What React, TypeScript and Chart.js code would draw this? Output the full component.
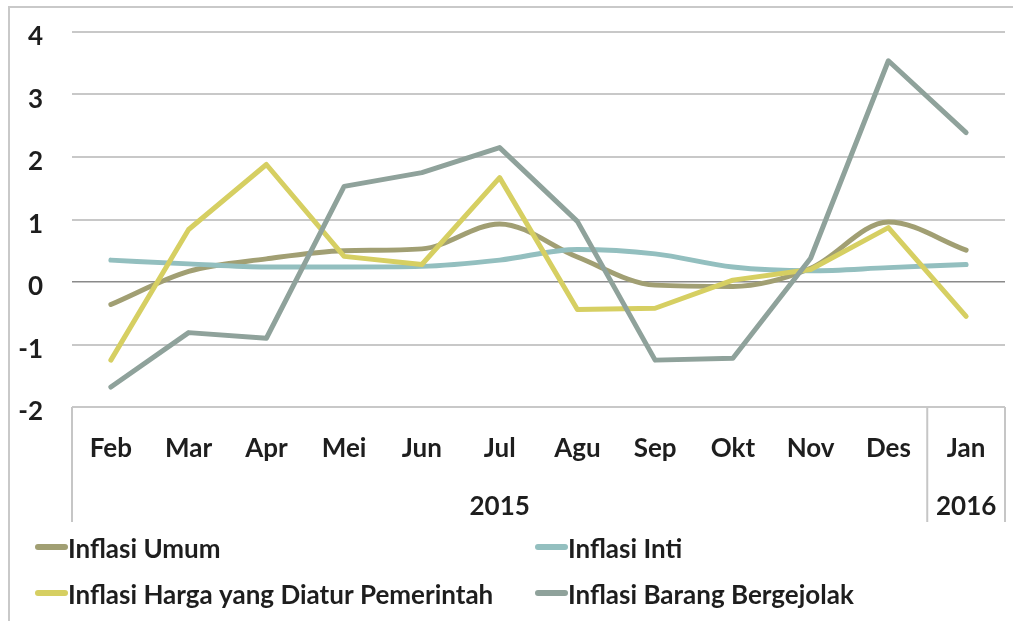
import React, { useEffect, useRef } from 'react';
import { Chart, registerables } from 'chart.js';

Chart.register(...registerables);

// ---- data ----
const months = ['Feb', 'Mar', 'Apr', 'Mei', 'Jun', 'Jul', 'Agu', 'Sep', 'Okt', 'Nov', 'Des', 'Jan'];
const yearLabels = ['2015', '2016'];
const yearSpans = [11, 1];

const inflasiUmum = [-0.36, 0.17, 0.37, 0.5, 0.53, 0.93, 0.4, -0.05, -0.07, 0.22, 0.96, 0.51];
const inflasiInti = [0.35, 0.29, 0.24, 0.24, 0.25, 0.35, 0.52, 0.45, 0.24, 0.18, 0.23, 0.28];
const inflasiHarga = [-1.25, 0.84, 1.88, 0.41, 0.28, 1.67, -0.44, -0.42, 0.03, 0.2, 0.87, -0.55];
const inflasiBergejolak = [-1.68, -0.81, -0.9, 1.53, 1.75, 2.15, 0.97, -1.25, -1.22, 0.38, 3.54, 2.39];

const seriesNames = [
  'Inflasi Umum',
  'Inflasi Inti',
  'Inflasi Harga yang Diatur Pemerintah',
  'Inflasi Barang Bergejolak',
];
const seriesColors = ['#a19f73', '#93bfbf', '#d6cf62', '#8fa29b'];

const yMin = -2;
const yMax = 4;
const yStep = 1;

const FONT = 'Lato';
const TEXT = '#1e1e1e';

const decorPlugin = {
  id: 'decor',
  afterDraw(chart: any) {
    const { ctx, chartArea, scales } = chart;
    const xs = scales.x;
    ctx.save();
    // outer frame (top + left)
    ctx.strokeStyle = '#c9c9c9';
    ctx.lineWidth = 2;
    ctx.beginPath();
    ctx.moveTo(9, chart.height);
    ctx.lineTo(9, 7);
    ctx.lineTo(chart.width, 7);
    ctx.stroke();

    // group separators + labels
    const sepBottom = chartArea.bottom + 115;
    ctx.strokeStyle = '#c6c6c6';
    ctx.lineWidth = 2;
    let start = 0;
    const n = months.length;
    const boundary = (i: number) => {
      if (i <= 0) return chartArea.left;
      if (i >= n) return chartArea.right;
      return (xs.getPixelForValue(i - 1) + xs.getPixelForValue(i)) / 2;
    };
    ctx.font = `bold 26px ${FONT}`;
    ctx.fillStyle = TEXT;
    ctx.textAlign = 'center';
    ctx.textBaseline = 'middle';
    yearSpans.forEach((span, gi) => {
      const l = boundary(start);
      const r = boundary(start + span);
      ctx.beginPath();
      ctx.moveTo(l, chartArea.bottom);
      ctx.lineTo(l, sepBottom);
      ctx.stroke();
      if (gi === yearSpans.length - 1) {
        ctx.beginPath();
        ctx.moveTo(r, chartArea.bottom);
        ctx.lineTo(r, sepBottom);
        ctx.stroke();
      }
      ctx.fillText(yearLabels[gi], (l + r) / 2, chartArea.bottom + 100);
      start += span;
    });

    // legend (2 columns)
    const colX = [35, 535];
    const rowY = [chartArea.bottom + 143, chartArea.bottom + 189];
    ctx.textAlign = 'left';
    chart.data.datasets.forEach((ds: any, i: number) => {
      const cx = colX[i % 2];
      const cy = rowY[Math.floor(i / 2)];
      ctx.strokeStyle = ds.borderColor;
      ctx.lineWidth = 6;
      ctx.lineCap = 'round';
      ctx.beginPath();
      ctx.moveTo(cx + 3, cy - 3);
      ctx.lineTo(cx + 30, cy - 3);
      ctx.stroke();
      ctx.fillStyle = TEXT;
      ctx.fillText(ds.label, cx + 33, cy);
    });
    ctx.restore();
  },
};

export default function App() {
  const ref = useRef<HTMLCanvasElement>(null);
  useEffect(() => {
    if (!ref.current) return;
    const series = [inflasiUmum, inflasiInti, inflasiHarga, inflasiBergejolak];
    const chart = new Chart(ref.current, {
      type: 'line',
      data: {
        labels: months,
        datasets: series.map((d, i) => ({
          label: seriesNames[i],
          data: d,
          borderColor: seriesColors[i],
          backgroundColor: seriesColors[i],
          borderWidth: 5,
          pointRadius: 0,
          borderCapStyle: 'round' as const,
          borderJoinStyle: 'round' as const,
          cubicInterpolationMode: i < 2 ? ('monotone' as const) : ('default' as const),
          tension: 0,
          order: series.length - i,
        })),
      },
      options: {
        animation: false,
        responsive: true,
        maintainAspectRatio: false,
        layout: { padding: { top: 32, right: 8, left: 0, bottom: 0 } },
        plugins: { legend: { display: false }, tooltip: { enabled: false } },
        scales: {
          x: {
            type: 'category',
            offset: true,
            grid: { display: false, drawTicks: false },
            border: { display: false },
            ticks: {
              padding: 26,
              color: TEXT,
              font: { family: FONT, weight: 'bold', size: 26 },
              maxRotation: 0,
              autoSkip: false,
            },
            afterFit: (s: any) => {
              s.height = 214;
            },
          },
          y: {
            min: yMin,
            max: yMax,
            ticks: {
              stepSize: yStep,
              padding: 29,
              labelOffset: 5,
              color: TEXT,
              font: { family: FONT, weight: 'bold', size: 26 },
            },
            grid: {
              drawTicks: false,
              color: (c: any) => (c.tick && c.tick.value === 0 ? '#8a8a8a' : '#c8c8c8'),
              lineWidth: (c: any) => (c.tick && c.tick.value === 0 ? 1.5 : 2),
            },
            border: { display: false },
            afterFit: (s: any) => {
              s.width = 72;
              s.paddingTop = 0;
              s.paddingBottom = 0;
            },
          },
        },
      },
      plugins: [decorPlugin],
    });
    return () => chart.destroy();
  }, []);
  return (
    <div style={{ position: 'fixed', left: 0, top: 0, width: 1013, height: 621, background: '#fff' }}>
      <canvas ref={ref} />
    </div>
  );
}
